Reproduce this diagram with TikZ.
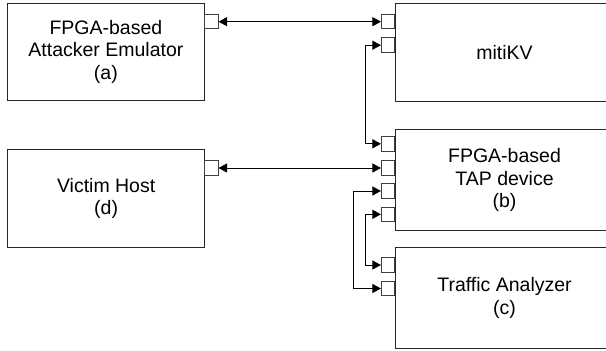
\documentclass[tikz,border=0pt]{standalone}
\usepackage{fontspec}
\setmainfont{Liberation Sans}
\usetikzlibrary{arrows.meta}
\begin{document}
\begin{tikzpicture}[x=1pt,y=-1pt,
  box/.style={draw=black!85, line width=1pt, fill=white, rectangle, inner sep=0pt,
    align=center, anchor=north west,
    font=\fontsize{19.5}{22.4}\selectfont},
  port/.style={draw=black!75, line width=1pt, fill=white, rectangle, inner sep=0pt,
    minimum width=13.5pt, minimum height=14.5pt},
  tip/.style={Triangle[length=8.5pt,width=9pt]},
  link/.style={line width=0.9pt, black, {Triangle[length=8.5pt,width=9pt]}-{Triangle[length=8.5pt,width=9pt]}}
]
\useasboundingbox (0,0) rectangle (606,351);

% main blocks
\node[box, minimum width=197.8pt, minimum height=97.3pt] (att) at (6.5,2.7)
  {FPGA-based\\Attacker Emulator\\(a)};
\node[box, minimum width=197.3pt, minimum height=97.7pt] (vic) at (7,149)
  {Victim Host\\(d)};
\node[box, minimum width=218pt, minimum height=98pt] (kv) at (395,2.7)
  {mitiKV};
\node[box, minimum width=218pt, minimum height=101pt] (tap) at (395,129)
  {FPGA-based\\TAP device\\(b)};
\node[box, minimum width=218pt, minimum height=101.6pt] (ta) at (395,246.7)
  {Traffic Analyzer\\(c)};

% ports
\node[port] (pa)  at (211.3,21.7) {};
\node[port] (pd)  at (211.3,168) {};
\node[port] (pk1) at (388.2,21.7) {};
\node[port] (pk2) at (388.2,45.2) {};
\node[port] (pt1) at (388.2,143.8) {};
\node[port] (pt2) at (388.2,168) {};
\node[port] (pt3) at (388.2,191) {};
\node[port] (pt4) at (388.2,214.3) {};
\node[port] (pc1) at (388.2,265) {};
\node[port] (pc2) at (388.2,288.5) {};

% connections
\draw[link] (pa.east) -- (pk1.west);
\draw[link] (pd.east) -- (pt2.west);
\draw[link] (pk2.west) -- ([xshift=-15.6pt]pk2.west) |- (pt1.west);
\draw[link] (pt3.west) -- ([xshift=-28pt]pt3.west) |- (pc2.west);
\draw[link] (pt4.west) -- ([xshift=-15.6pt]pt4.west) |- (pc1.west);
\end{tikzpicture}
\end{document}
